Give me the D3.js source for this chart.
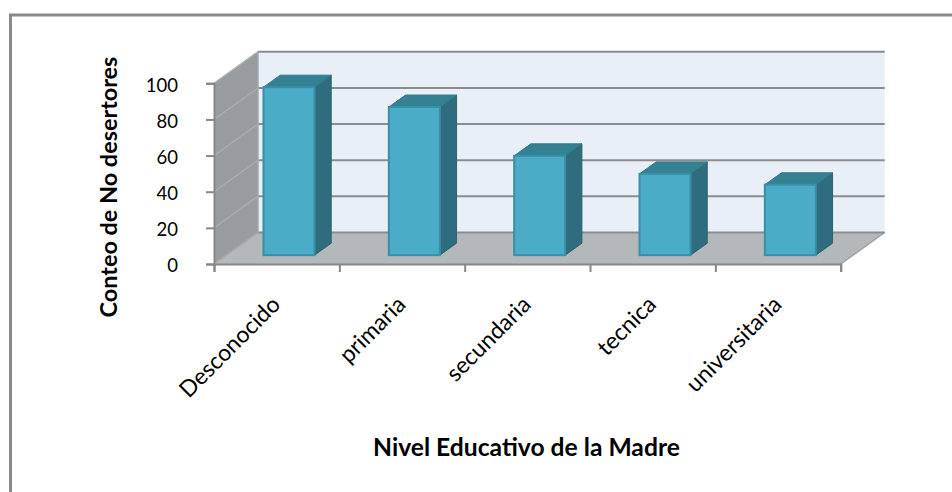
<!DOCTYPE html>
<html>
<head>
<meta charset="utf-8">
<script src="https://cdn.jsdelivr.net/npm/d3@7"></script>
<style>
  html, body { margin: 0; padding: 0; background: #ffffff; }
  svg { display: block; }
  text { font-family: Lato, "Open Sans", "DejaVu Sans", sans-serif; fill: #000; }
</style>
</head>
<body>
<svg id="chart" width="952" height="492"></svg>
<script>
// ---- data ----
const categories = ["Desconocido", "primaria", "secundaria", "tecnica", "universitaria"];
const values = [93, 82, 55, 45, 39];
const yTicks = [0, 20, 40, 60, 80, 100];
const xTitle = "Nivel Educativo de la Madre";
const yTitle = "Conteo de No desertores";

// ---- layout ----
const W = 952, H = 492;
const svg = d3.select("#chart");

const frontLeft = 214, frontRight = 840.7;
const frontBottom = 264, frontTop = 83.3;
const DX = 44, DY = -31.5;        // full depth offset
const z0 = 0.28, dz = 0.38;       // bar depth placement
const barFrac = 0.407;

const x = d3.scaleBand().domain(categories).range([frontLeft, frontRight]).padding(0);
const y = d3.scaleLinear().domain([0, 100]).range([frontBottom, frontTop]);
const xEdges = d3.scaleLinear().domain([0, categories.length]).range([frontLeft, frontRight]);

const P = (px, v, z) => [px + DX * z, y(v) + DY * z];
const poly = pts => "M" + pts.map(p => p.join(",")).join("L") + "Z";

// outer frame (only top and left visible)
svg.append("path")
  .attr("d", `M10.5,${H + 5}L10.5,15L${W + 5},15`)
  .attr("fill", "none").attr("stroke", "#8a8a8a").attr("stroke-width", 3);

// side wall
svg.append("path")
  .attr("d", poly([P(frontLeft, 0, 0), P(frontLeft, 100, 0), P(frontLeft, 100, 1), P(frontLeft, 0, 1)]))
  .attr("fill", "#999c9f");

// back wall
svg.append("path")
  .attr("d", poly([P(frontLeft, 0, 1), P(frontLeft, 100, 1), P(frontRight, 100, 1), P(frontRight, 0, 1)]))
  .attr("fill", "#e8eff6");

// floor
svg.append("path")
  .attr("d", poly([P(frontLeft, 0, 0), P(frontRight, 0, 0), P(frontRight, 0, 1), P(frontLeft, 0, 1)]))
  .attr("fill", "#b4b8bb");

// floor right edge
svg.append("line")
  .attr("x1", P(frontRight, 0, 0)[0]).attr("y1", P(frontRight, 0, 0)[1])
  .attr("x2", P(frontRight, 0, 1)[0]).attr("y2", P(frontRight, 0, 1)[1])
  .attr("stroke", "#a0a0a0").attr("stroke-width", 1.5);

// gridlines on back wall
svg.append("g").selectAll("line").data(yTicks).join("line")
  .attr("x1", d => P(frontLeft, d, 1)[0]).attr("x2", d => P(frontRight, d, 1)[0])
  .attr("y1", d => P(frontLeft, d, 1)[1]).attr("y2", d => P(frontRight, d, 1)[1])
  .attr("stroke", "#8c8c8c").attr("stroke-width", 2);

// gridlines on side wall
svg.append("g").selectAll("line").data(yTicks.filter(d => d > 0)).join("line")
  .attr("x1", d => P(frontLeft, d, 0)[0]).attr("x2", d => P(frontLeft, d, 1)[0])
  .attr("y1", d => P(frontLeft, d, 0)[1]).attr("y2", d => P(frontLeft, d, 1)[1])
  .attr("stroke", "#a9abad").attr("stroke-width", 1.5);

// back wall left edge
svg.append("line")
  .attr("x1", P(frontLeft, 0, 1)[0]).attr("y1", P(frontLeft, 0, 1)[1])
  .attr("x2", P(frontLeft, 100, 1)[0]).attr("y2", P(frontLeft, 100, 1)[1])
  .attr("stroke", "#a6a9ac").attr("stroke-width", 1.5);

// side-wall / floor edge
svg.append("line")
  .attr("x1", P(frontLeft, 0, 0)[0]).attr("y1", P(frontLeft, 0, 0)[1])
  .attr("x2", P(frontLeft, 0, 1)[0]).attr("y2", P(frontLeft, 0, 1)[1])
  .attr("stroke", "#a6a9ac").attr("stroke-width", 1.5);

// bars
const bw = x.bandwidth() * barFrac;
const bars = svg.append("g").selectAll("g").data(categories.map((c, i) => ({ c, v: values[i] }))).join("g");
bars.each(function (d) {
  const g = d3.select(this);
  const cx = x(d.c) + x.bandwidth() / 2;
  const l = cx - bw / 2, r = cx + bw / 2;
  // side face
  g.append("path")
    .attr("d", poly([P(r, d.v, z0), P(r, d.v, z0 + dz), P(r, 0, z0 + dz), P(r, 0, z0)]))
    .attr("fill", "#2e6c7e").attr("stroke", "#2a6373").attr("stroke-width", 1);
  // top face
  g.append("path")
    .attr("d", poly([P(l, d.v, z0), P(r, d.v, z0), P(r, d.v, z0 + dz), P(l, d.v, z0 + dz)]))
    .attr("fill", "#358194").attr("stroke", "#327a8c").attr("stroke-width", 1);
  // front face
  const fl = P(l, d.v, z0), br = P(r, 0, z0);
  g.append("rect")
    .attr("x", fl[0]).attr("y", fl[1])
    .attr("width", br[0] - fl[0]).attr("height", br[1] - fl[1])
    .attr("fill", "#4aacc6").attr("stroke", "#3a8fa6").attr("stroke-width", 2);
});

// y axis
const yAxis = svg.append("g").attr("transform", `translate(${frontLeft},0)`)
  .call(d3.axisLeft(y).tickValues(yTicks).tickSize(8).tickPadding(28).tickFormat(d3.format("d")));
yAxis.select(".domain").attr("stroke", "#878787").attr("stroke-width", 2);
yAxis.selectAll(".tick line").attr("stroke", "#878787").attr("stroke-width", 2);
yAxis.selectAll(".tick text").attr("font-size", 18.5).attr("font-family", "Lato, sans-serif").attr("fill", "#000").attr("dy", "0.42em");

// x axis (tick marks at category boundaries)
const xAxis = svg.append("g").attr("transform", `translate(0,${frontBottom})`)
  .call(d3.axisBottom(xEdges).tickValues(d3.range(categories.length + 1)).tickSize(8).tickFormat(""));
xAxis.select(".domain").attr("stroke", "#878787").attr("stroke-width", 2);
xAxis.selectAll(".tick line").attr("stroke", "#878787").attr("stroke-width", 2);

// category labels
svg.append("g").selectAll("text").data(categories).join("text")
  .attr("transform", d => `translate(${x(d) + x.bandwidth() / 2 + 5},${306}) rotate(-45)`)
  .attr("text-anchor", "end")
  .attr("font-size", 23)
  .text(d => d);

// titles
function fitWidth(sel, target) {
  const w = sel.node().getComputedTextLength();
  const fs = parseFloat(sel.attr("font-size"));
  sel.attr("font-size", fs * target / w);
}
const xt = svg.append("text")
  .attr("x", 526.5).attr("y", 456)
  .attr("text-anchor", "middle").attr("font-weight", "bold").attr("font-size", 21)
  .text(xTitle);
fitWidth(xt, 307);

const yt = svg.append("text")
  .attr("transform", "translate(117,187) rotate(-90)")
  .attr("text-anchor", "middle").attr("font-weight", "bold").attr("font-size", 21)
  .text(yTitle);
fitWidth(yt, 261);
</script>
</body>
</html>
